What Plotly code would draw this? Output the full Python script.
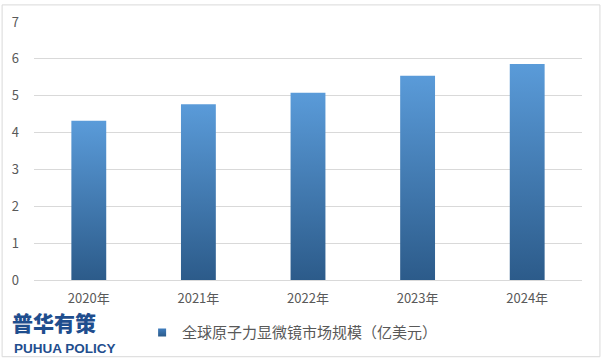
import plotly.graph_objects as go

# Global AFM market size, 100 million USD
years = ["2020年", "2021年", "2022年", "2023年", "2024年"]
values = [4.32, 4.77, 5.08, 5.54, 5.86]
series_name = "全球原子力显微镜市场规模（亿美元）"
y_ticks = [0, 1, 2, 3, 4, 5, 6, 7]

W, H = 601, 361
ML, MR, MT, MB = 32.5, 18.5, 18, 79
PW, PH = W - ML - MR, H - MT - MB

BAR_HALF = 0.159
TOP_BLUE = "#5A9BD9"
BOTTOM_BLUE = "#2C5B8A"
TEXT = "#595959"
GRID = "#D9D9D9"
LOGO = "#1F4E8E"
CJK = "Noto Sans CJK SC"

fig = go.Figure()

# each bar is a filled rectangle with its own vertical gradient
for i, v in enumerate(values):
    fig.add_trace(go.Scatter(
        x=[i - BAR_HALF, i + BAR_HALF, i + BAR_HALF, i - BAR_HALF, i - BAR_HALF],
        y=[0, 0, v, v, 0],
        mode="lines",
        line=dict(width=0, color=TOP_BLUE),
        fill="toself",
        fillgradient=dict(type="vertical",
                          colorscale=[[0, BOTTOM_BLUE], [1, TOP_BLUE]]),
        showlegend=False,
        hoverinfo="skip",
    ))

# legend entry
fig.add_trace(go.Scatter(
    x=[None], y=[None], mode="markers", name=series_name,
    marker=dict(symbol="square", size=8, color="#3F7DBE",
                gradient=dict(type="vertical", color=BOTTOM_BLUE)),
))


def px_x(p):
    return (p - ML) / PW


def px_y(p):
    return (H - MB - p) / PH


fig.update_layout(
    width=W, height=H,
    margin=dict(l=ML, r=MR, t=MT, b=MB),
    paper_bgcolor="white", plot_bgcolor="white",
    font=dict(family=CJK, color=TEXT, size=13),
    xaxis=dict(
        range=[-0.5, 4.5], tickmode="array",
        tickvals=list(range(len(years))), ticktext=years,
        showgrid=False, zeroline=False, showline=False,
        ticks="", ticklabelstandoff=9,
        tickfont=dict(size=13, color=TEXT, family=CJK),
        fixedrange=True,
    ),
    yaxis=dict(
        range=[0, 7], tickmode="array", tickvals=y_ticks,
        showgrid=True, gridcolor=GRID, gridwidth=1,
        zeroline=True, zerolinecolor=GRID, zerolinewidth=1,
        showline=False, ticks="", ticklabelstandoff=14,
        tickfont=dict(size=13, color=TEXT, family=CJK),
        fixedrange=True,
    ),
    showlegend=True,
    legend=dict(
        orientation="h", x=px_x(141), xanchor="left",
        y=px_y(336), yanchor="middle",
        font=dict(size=15, color=TEXT, family=CJK),
        itemwidth=30, bgcolor="rgba(0,0,0,0)",
    ),
    annotations=[
        dict(text="普华有策", xref="paper", yref="paper",
             x=px_x(8), y=px_y(325), xanchor="left", yanchor="middle",
             showarrow=False,
             font=dict(size=21, color=LOGO, family=CJK, weight=900)),
        dict(text="PUHUA POLICY", xref="paper", yref="paper",
             x=px_x(10), y=px_y(352), xanchor="left", yanchor="middle",
             showarrow=False,
             font=dict(size=13.5, color=LOGO, family="Liberation Sans",
                       weight=700)),
    ],
    shapes=[
        dict(type="rect", xref="paper", yref="paper",
             x0=px_x(0.5), x1=px_x(W - 0.5), y0=px_y(H - 0.5), y1=px_y(0.5),
             line=dict(color=GRID, width=1), fillcolor="rgba(0,0,0,0)",
             layer="below"),
    ],
)

fig.write_html("out.html")
